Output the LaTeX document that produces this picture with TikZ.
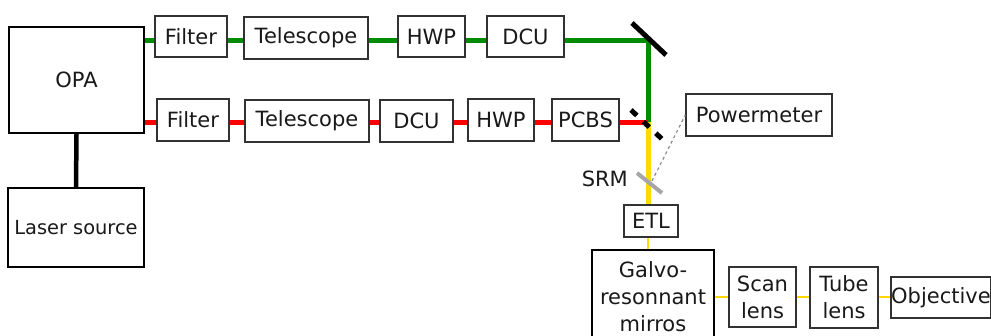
\documentclass[tikz,border=0pt]{standalone}
\usepackage{fontspec}
\setmainfont{DejaVu Sans}
\definecolor{beamgreen}{RGB}{0,140,0}
\definecolor{beamred}{RGB}{255,0,0}
\definecolor{beamyellow}{RGB}{255,218,0}
\definecolor{boxline}{RGB}{50,50,50}
\definecolor{txt}{RGB}{25,25,25}
\begin{document}
\begin{tikzpicture}[x=1pt,y=-1pt,
  box/.style={draw=boxline, line width=1.5pt, inner sep=0pt, fill=white, text=txt, align=center,
    font=\fontsize{21}{27}\selectfont},
  bigbox/.style={box, draw=black, line width=2.4pt},
  gbeam/.style={draw=beamgreen, line width=5pt},
  rbeam/.style={draw=beamred, line width=5pt},
  ybeam/.style={draw=beamyellow, line width=5pt},
  ythin/.style={draw=beamyellow, line width=2pt},
  mirror/.style={draw=black, line width=5pt},
]
\useasboundingbox (0,0) rectangle (991,336);
\clip (0,0) rectangle (991,336);

% coordinates
\coordinate (gl) at (0,40.5);
\coordinate (rl) at (0,122.5);
\coordinate (m1) at (648,40.5);
\coordinate (m2) at (648,122.5);

\node[bigbox, minimum width=135pt, minimum height=106pt] (opa) at (76.5,80) {OPA};
\node[box, line width=2pt, draw=black, minimum width=136pt, minimum height=79pt,
  font=\fontsize{19.4}{22}\selectfont] (laser) at (76,227.5) {Laser source};
\draw[draw=black, line width=4.5pt] (laser.north) -- (opa.south);

\node[box, minimum width=72pt, minimum height=41pt] (f1) at (191,36.5) {Filter};
\node[box, minimum width=124pt, minimum height=42pt] (t1) at (306,38) {Telescope};
\node[box, minimum width=67pt, minimum height=41pt] (h1) at (431.5,36.5) {HWP};
\node[box, minimum width=77pt, minimum height=41pt] (d1) at (525.5,36.5) {DCU};

\node[box, minimum width=72pt, minimum height=42pt] (f2) at (193,120) {Filter};
\node[box, minimum width=124pt, minimum height=42pt] (t2) at (307,121) {Telescope};
\node[box, minimum width=73pt, minimum height=42pt] (d2) at (416.5,121) {DCU};
\node[box, minimum width=66pt, minimum height=42pt] (h2) at (501,120) {HWP};
\node[box, minimum width=67pt, minimum height=42pt] (p2) at (585.5,120) {PCBS};

\node[box, minimum width=146pt, minimum height=42pt] (pm) at (759,115) {Powermeter};
\node[box, minimum width=54pt, minimum height=32pt] (etl) at (651,221) {ETL};
\node[bigbox, minimum width=122pt, minimum height=94pt] (galvo) at (653,297) {Galvo-\\resonnant\\mirros};
\node[box, minimum width=67pt, minimum height=60pt] (scan) at (762.5,297) {Scan\\lens};
\node[box, minimum width=68pt, minimum height=61pt] (tube) at (844,297.5) {Tube\\lens};
\node[box, minimum width=98pt, minimum height=41pt] (obj) at (941,297.5) {Objective};

% green beam
\draw[gbeam] (opa.east |- gl) -- (f1.west |- gl);
\draw[gbeam] (f1.east |- gl) -- (t1.west |- gl);
\draw[gbeam] (t1.east |- gl) -- (h1.west |- gl);
\draw[gbeam] (h1.east |- gl) -- (d1.west |- gl);
\draw[gbeam] (d1.east |- gl) -- (m1) -- (m2);

% red beam
\draw[rbeam] (opa.east |- rl) -- (f2.west |- rl);
\draw[rbeam] (f2.east |- rl) -- (t2.west |- rl);
\draw[rbeam] (t2.east |- rl) -- (d2.west |- rl);
\draw[rbeam] (d2.east |- rl) -- (h2.west |- rl);
\draw[rbeam] (h2.east |- rl) -- (p2.west |- rl);
\draw[rbeam] (p2.east |- rl) -- (m2);

% yellow beam
\draw[ybeam] (m2) -- (m2 |- etl.north);
\draw[ythin] (etl.south -| m2) -- (galvo.north -| m2);
\draw[ythin] (galvo.east |- scan.west) -- (scan.west);
\draw[ythin] (scan.east) -- (tube.west |- scan.east);
\draw[ythin] (tube.east |- obj.west) -- (obj.west);

% mirrors
\coordinate (mt1) at (632,23);
\coordinate (mt2) at (666,55);
\draw[mirror] (mt1) -- (mt2);
\coordinate (dc1) at (631,110);
\coordinate (dc2) at (663,140);
\draw[mirror, dash pattern=on 8pt off 9pt] (dc1) -- (dc2);

% SRM
\coordinate (s1) at (637,173);
\coordinate (s2) at (662,193);
\coordinate (sc) at (652,181);
\draw[draw=black!35, line width=4pt] (s1) -- (s2);
\node[text=txt, font=\fontsize{21}{24}\selectfont, anchor=east, inner sep=0pt] (srm) at (628,179) {SRM};
\draw[draw=black!45, line width=1.2pt, dash pattern=on 3pt off 3pt] (sc) -- (pm.west);
\end{tikzpicture}
\end{document}
